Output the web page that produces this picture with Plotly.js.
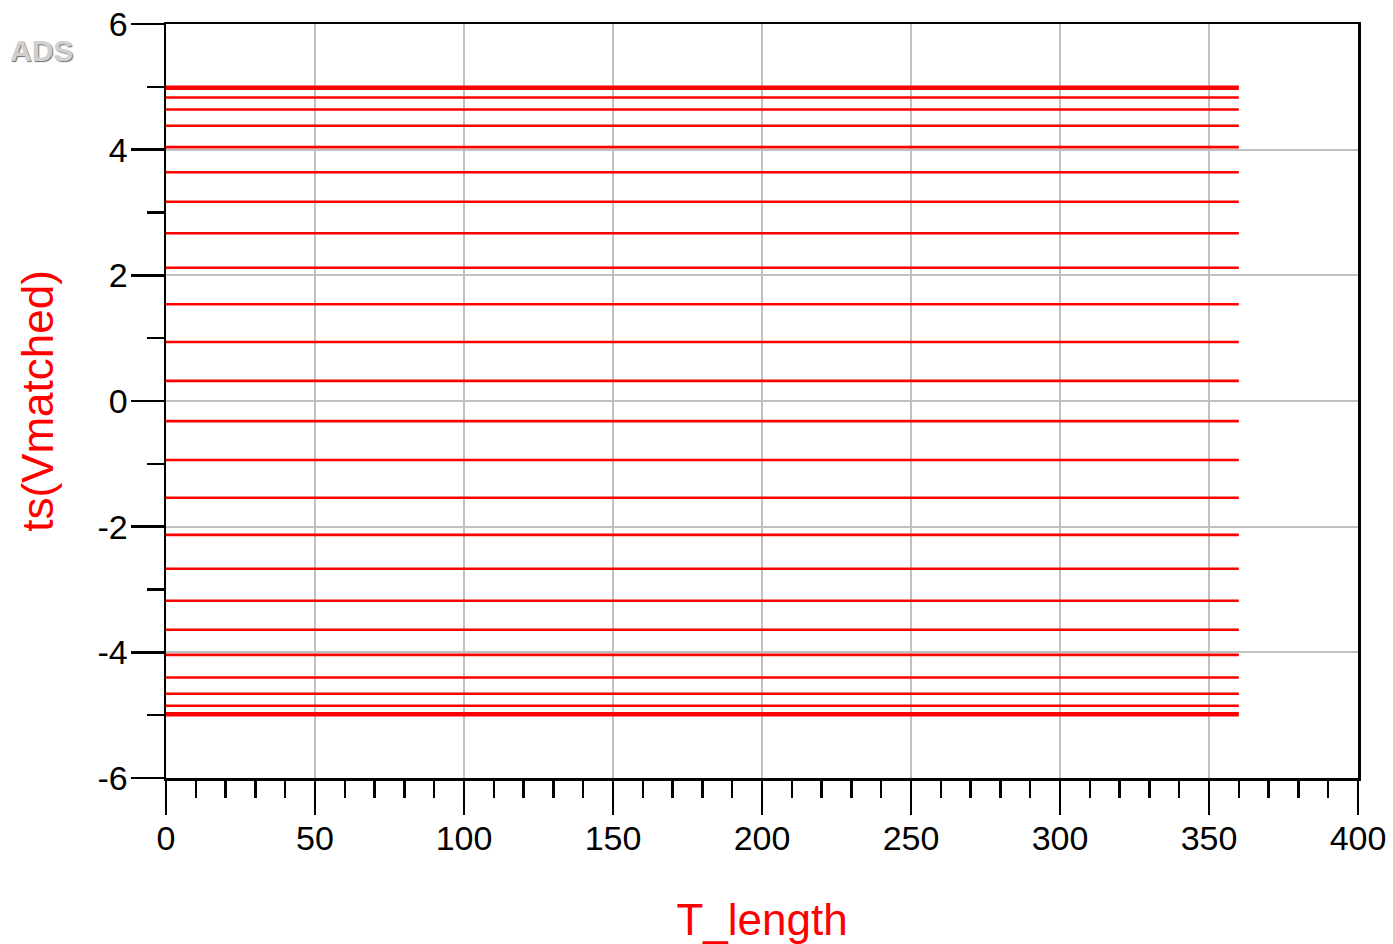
<!DOCTYPE html>
<html>
<head>
<meta charset="utf-8">
<script src="https://cdn.plot.ly/plotly-3.0.1.min.js"></script>
<style>html,body{margin:0;padding:0;background:#fff;}#chart{width:1393px;height:944px;}</style>
</head>
<body>
<div id="chart"></div>
<script>
// Sweep range along T_length
const xRange = [0, 360];
// Constant levels of ts(Vmatched), one per sweep trace
const levels = [5.00, 4.97, 4.83, 4.64, 4.38, 4.04, 3.64, 3.17, 2.67, 2.12, 1.54, 0.94, 0.32,
  -0.32, -0.94, -1.54, -2.13, -2.67, -3.18, -3.64, -4.04, -4.40, -4.66, -4.85, -4.97, -5.00];
const xTicks = [0, 50, 100, 150, 200, 250, 300, 350, 400];
const yTicks = [-6, -4, -2, 0, 2, 4, 6];

const traces = levels.map(v => ({
  x: xRange,
  y: [v, v],
  type: 'scatter',
  mode: 'lines',
  line: {color: '#ff0000', width: 2.6},
  hoverinfo: 'skip',
  showlegend: false
}));

const font = {family: 'Arial, "Liberation Sans", sans-serif', size: 34, color: '#000'};

const layout = {
  width: 1393, height: 944,
  margin: {l: 166, r: 35, t: 24, b: 166},
  paper_bgcolor: '#fff', plot_bgcolor: '#fff',
  font: font,
  showlegend: false,
  xaxis: {
    range: [0, 400], tickvals: xTicks, ticktext: xTicks.map(String),
    showline: true, linecolor: '#000', linewidth: 2.5, mirror: true,
    ticks: 'outside', ticklen: 34, tickwidth: 2.5, tickcolor: '#000',
    showgrid: true, gridcolor: '#c0c0c0', gridwidth: 2, zeroline: false,
    tickfont: font, ticklabelstandoff: -5,
    minor: {dtick: 10, tick0: 0, ticks: 'outside', ticklen: 17, tickwidth: 2.5, tickcolor: '#000', showgrid: false},
    title: {text: 'T_length', font: {family: font.family, size: 44, color: '#ff0000'}, standoff: 48},
    automargin: false
  },
  yaxis: {
    range: [-6, 6], tickvals: yTicks, ticktext: yTicks.map(String),
    showline: true, linecolor: '#000', linewidth: 2.5, mirror: true,
    ticks: 'outside', ticklen: 33, tickwidth: 2.5, tickcolor: '#000',
    showgrid: true, gridcolor: '#c0c0c0', gridwidth: 2, zeroline: false,
    tickfont: font, ticklabelstandoff: -4,
    minor: {dtick: 1, tick0: 0, ticks: 'outside', ticklen: 17, tickwidth: 2.5, tickcolor: '#000', showgrid: false},
    title: {text: 'ts(Vmatched)', font: {family: font.family, size: 44, color: '#ff0000'}, standoff: 30},
    automargin: false
  },
  annotations: [{
    text: '<b>ADS</b>', xref: 'paper', yref: 'paper', x: -0.1325, y: 0.965,
    xanchor: 'left', yanchor: 'middle', showarrow: false,
    font: {family: font.family, size: 30, color: '#d0d0d0', shadow: '1px 1px 1px #707070'}
  }]
};

Plotly.newPlot('chart', traces, layout, {displayModeBar: false, staticPlot: true});
</script>
</body>
</html>
